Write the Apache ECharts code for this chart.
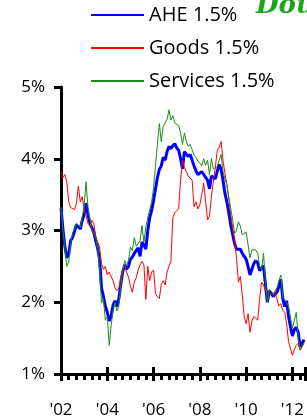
<!DOCTYPE html>
<html>
<head>
<meta charset="utf-8">
<script src="https://cdn.jsdelivr.net/npm/echarts@6/dist/echarts.min.js"></script>
<style>
   html, body { margin: 0; padding: 0; background: #fff; }
   #chart { width: 307px; height: 420px; }
</style>
</head>
<body>
<div id="chart"></div>
<script>
// monthly, Jan 2002 onwards (y/y %)
const startYear = 2002;
const seriesNames = ['AHE 1.5%', 'Goods 1.5%', 'Services 1.5%'];

const ahe = [
   3.32, 3.02, 2.78, 2.62, 2.66, 2.86, 2.90, 2.89, 3.08, 3.10, 3.02, 3.14,
   3.22, 3.38, 3.22, 3.10, 3.04, 2.97, 2.86, 2.75, 2.60, 2.20, 2.08, 1.95,
   1.86, 1.74, 1.80, 1.96, 2.02, 1.94, 2.05, 2.25, 2.42, 2.52, 2.46, 2.50,
   2.60, 2.63, 2.68, 2.72, 2.76, 2.64, 2.84, 2.80, 2.74, 3.00, 3.18, 3.28,
   3.42, 3.58, 3.74, 3.85, 3.90, 4.02, 3.98, 4.10, 4.17, 4.14, 4.18, 4.21,
   4.15, 4.12, 4.00, 3.86, 4.10, 4.08, 4.03, 4.06, 4.05, 3.90, 3.83, 3.78,
   3.78, 3.82, 3.78, 3.76, 3.70, 3.58, 3.76, 3.75, 3.72, 3.82, 3.92, 3.86,
   3.70, 3.52, 3.40, 3.25, 3.08, 2.95, 2.82, 2.74, 2.73, 2.74, 2.68, 2.64,
   2.60, 2.50, 2.38, 2.46, 2.54, 2.58, 2.55, 2.44, 2.42, 2.51, 2.25, 2.00,
   2.16, 2.12, 2.08, 2.11, 2.14, 2.22, 2.32, 2.05, 1.94, 2.02, 1.80, 1.66,
   1.53, 1.62, 1.65, 1.58, 1.38, 1.42, 1.48
];

const goods = [
   3.82, 3.74, 3.78, 3.68, 3.40, 3.32, 3.30, 3.29, 3.38, 3.62, 3.40, 3.47,
   3.30, 3.20, 3.10, 3.06, 3.14, 3.10, 2.92, 2.84, 2.77, 2.54, 2.46, 2.50,
   2.38, 2.42, 2.40, 2.30, 2.20, 2.16, 2.20, 2.36, 2.46, 2.52, 2.42, 2.35,
   2.22, 2.14, 2.28, 2.34, 2.45, 2.52, 2.57, 2.52, 2.04, 2.50, 2.30, 2.42,
   2.45, 2.12, 2.08, 2.05, 2.25, 2.30, 2.24, 2.42, 2.50, 2.58, 3.18, 3.25,
   3.27, 3.30, 3.70, 3.98, 3.88, 3.82, 3.76, 3.74, 3.70, 3.33, 3.40, 3.30,
   3.36, 3.50, 3.66, 3.40, 3.15, 3.20, 3.48, 3.68, 3.88, 4.10, 4.16, 4.24,
   3.98, 3.80, 3.64, 3.44, 3.22, 3.04, 2.85, 2.62, 2.28, 2.36, 2.10, 1.80,
   1.70, 1.84, 1.58, 1.74, 1.80, 1.82, 1.75, 2.05, 2.28, 2.24, 2.16, 2.18,
   2.12, 2.10, 2.10, 2.14, 2.15, 1.95, 1.98, 1.89, 1.86, 1.70, 1.45, 1.47,
   1.26, 1.34, 1.40, 1.43, 1.33, 1.38, 1.43
];

const services = [
   3.33, 3.00, 2.76, 2.50, 2.56, 2.82, 2.96, 2.96, 3.10, 3.08, 3.04, 3.19,
   3.34, 3.68, 3.32, 3.16, 3.02, 2.95, 2.90, 2.75, 2.45, 1.99, 2.05, 1.75,
   1.80, 1.40, 1.68, 1.88, 2.00, 1.88, 1.95, 2.25, 2.42, 2.58, 2.52, 2.58,
   2.77, 2.72, 2.90, 2.78, 2.80, 2.86, 3.07, 2.84, 3.05, 3.18, 3.16, 3.40,
   3.60, 3.90, 4.20, 4.49, 4.24, 4.45, 4.44, 4.55, 4.68, 4.54, 4.60, 4.50,
   4.48, 4.46, 4.36, 4.20, 4.36, 4.24, 4.17, 4.20, 4.20, 4.05, 4.02, 3.97,
   3.94, 3.90, 4.00, 3.91, 3.98, 3.78, 4.00, 3.86, 3.88, 3.89, 3.98, 4.06,
   3.82, 3.72, 3.64, 3.47, 3.30, 3.16, 2.96, 3.00, 3.12, 3.06, 2.94, 2.93,
   2.98, 2.80, 2.62, 2.73, 2.75, 2.73, 2.68, 2.50, 2.46, 2.68, 2.30, 2.00,
   2.18, 2.18, 2.12, 2.16, 2.20, 2.30, 2.38, 2.08, 2.03, 2.00, 1.94, 1.96,
   1.64, 1.62, 1.86, 1.50, 1.34, 1.38, 1.43
];

const yTicks = [1, 2, 3, 4, 5];

function toPoints(arr) {
   return arr.map((v, i) => [i, v]);
}

function yearLabel(m) {
   const y = (startYear + Math.round(m / 12)) % 100;
   return "'" + (y < 10 ? '0' + y : y);
}

const font = '"Open Sans", Lato, sans-serif';
const xMax = 126.7;

const chart = echarts.init(document.getElementById('chart'), null, { renderer: 'canvas' });

chart.setOption({
   animation: false,
   backgroundColor: '#fff',
   textStyle: { fontFamily: font },
   legend: {
      orient: 'vertical',
      left: 90,
      top: 5,
      padding: 0,
      itemWidth: 53,
      itemHeight: 20,
      itemGap: 13,
      itemStyle: { color: 'transparent', borderColor: 'transparent', borderWidth: 0 },
      textStyle: { fontSize: 20, color: '#000', fontFamily: font },
      data: seriesNames
   },
   graphic: [{
      type: 'text',
      left: 256,
      top: -7,
      style: {
         text: 'Dou',
         fill: '#1aa51a',
         font: 'italic bold 26px "DejaVu Serif"'
      }
   }],
   grid: {
      left: 61,
      right: 0,
      top: 87,
      bottom: 46
   },
   xAxis: [{
      type: 'value',
      min: 0,
      max: xMax,
      interval: 24,
      axisLine: { show: true, lineStyle: { color: '#000', width: 3 } },
      axisTick: { show: true, length: 7, lineStyle: { color: '#000', width: 3 } },
      minorTick: { show: true, splitNumber: 6, length: 6, lineStyle: { color: '#000', width: 3 } },
      splitLine: { show: false },
      axisLabel: {
         color: '#000',
         fontSize: 17,
         fontFamily: font,
         margin: 28,
         showMaxLabel: false,
         formatter: yearLabel
      }
   }, {
      // inner half of the major ticks
      type: 'value',
      position: 'bottom',
      min: 0,
      max: xMax,
      interval: 24,
      axisLine: { show: false },
      axisTick: { show: true, inside: true, length: 7, lineStyle: { color: '#000', width: 3 } },
      axisLabel: { show: false },
      splitLine: { show: false }
   }],
   yAxis: {
      type: 'value',
      min: yTicks[0],
      max: yTicks[yTicks.length - 1],
      interval: 1,
      axisLine: { show: true, lineStyle: { color: '#000', width: 3 } },
      axisTick: { show: true, length: 7, lineStyle: { color: '#000', width: 3 } },
      splitLine: { show: false },
      axisLabel: {
         color: '#000',
         fontSize: 17,
         fontFamily: font,
         margin: 16,
         formatter: v => v + '%'
      }
   },
   series: [{
      name: seriesNames[0],
      type: 'line',
      symbol: 'none',
      data: toPoints(ahe),
      lineStyle: { color: '#0000ff', width: 3 },
      itemStyle: { color: '#0000ff' }
   }, {
      name: seriesNames[1],
      type: 'line',
      symbol: 'none',
      data: toPoints(goods),
      lineStyle: { color: '#ff0000', width: 1 },
      itemStyle: { color: '#ff0000' }
   }, {
      name: seriesNames[2],
      type: 'line',
      symbol: 'none',
      data: toPoints(services),
      lineStyle: { color: '#1a8c1a', width: 1 },
      itemStyle: { color: '#1a8c1a' }
   }]
});
</script>
</body>
</html>
